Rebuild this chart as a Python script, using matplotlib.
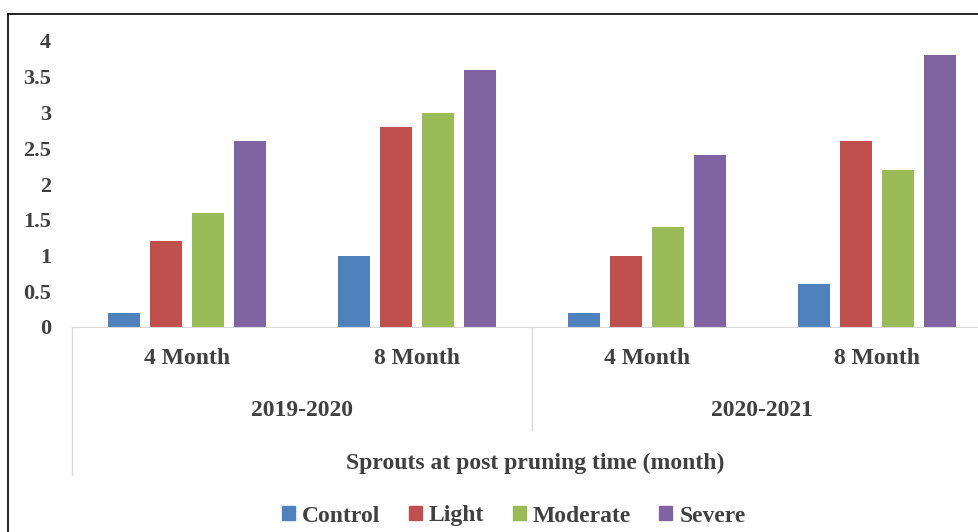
import matplotlib
matplotlib.use("Agg")
import matplotlib.pyplot as plt
import matplotlib.transforms as mtransforms
from matplotlib.lines import Line2D
import numpy as np

years = ["2019-2020", "2020-2021"]
months = ["4 Month", "8 Month", "4 Month", "8 Month"]
series = ["Control", "Light", "Moderate", "Severe"]
control = [0.2, 1.0, 0.2, 0.6]
light = [1.2, 2.8, 1.0, 2.6]
moderate = [1.6, 3.0, 1.4, 2.2]
severe = [2.6, 3.6, 2.4, 3.8]
yticks = [0, 0.5, 1, 1.5, 2, 2.5, 3, 3.5, 4]
ytick_labels = ["0", "0.5", "1", "1.5", "2", "2.5", "3", "3.5", "4"]
colors = ["#4F81BD", "#C0504D", "#9BBB59", "#8064A2"]
xlabel = "Sprouts at post pruning time (month)"

W, H = 979, 532
fig = plt.figure(figsize=(W/100, H/100), dpi=100)
FONT = "Liberation Serif"
TXT = "#404040"

def fx(px): return px / W
def fy(py): return 1 - py / H

ax = fig.add_axes([fx(72), fy(327), (992-72)/W, (327-41)/H])
x = np.arange(len(months))
vals = [control, light, moderate, severe]
for i, (v, c) in enumerate(zip(vals, colors)):
    ax.bar(x + (i - 1.5) * 0.183, v, width=0.14, color=c, label=series[i])
ax.set_xlim(-0.5, 3.5)
ax.set_ylim(0, 4)
for s in ["top", "right", "left"]:
    ax.spines[s].set_visible(False)
ax.spines["bottom"].set_color("#D9D9D9")
ax.set_xticks([])
ax.set_yticks(yticks)
ax.set_yticklabels(ytick_labels, fontfamily=FONT, fontweight="bold", fontsize=16, color=TXT)
ax.tick_params(axis="y", length=0, pad=15)

bt = mtransforms.blended_transform_factory(ax.transData, fig.transFigure)
for xi, m in zip(x, months):
    ax.text(xi, fy(358), m, transform=bt, ha="center", va="center",
            fontfamily=FONT, fontweight="bold", fontsize=17, color=TXT)
for k, yl in enumerate(years):
    ax.text(0.5 + 2*k, fy(410), yl, transform=bt, ha="center", va="center",
            fontfamily=FONT, fontweight="bold", fontsize=17, color=TXT)
fig.text(fx(535), fy(463), xlabel, ha="center", va="center", fontfamily=FONT,
         fontweight="bold", fontsize=17, color=TXT)

fig.add_artist(Line2D([fx(72), fx(72)], [fy(327), fy(475)], color="#D9D9D9", lw=1))
fig.add_artist(Line2D([fx(532), fx(532)], [fy(327), fy(430)], color="#D9D9D9", lw=1))
fig.add_artist(Line2D([fx(8), fx(979)], [fy(14), fy(14)], color="black", lw=1.2))
fig.add_artist(Line2D([fx(8), fx(8)], [fy(14), fy(532)], color="black", lw=1.2))

handles = [plt.Rectangle((0, 0), 1, 1, color=c) for c in colors]
leg = fig.legend(handles, series, loc="center", bbox_to_anchor=(fx(514), fy(516)), ncol=4, frameon=False,
                 prop={"family": FONT, "size": 17, "weight": "bold"}, handlelength=0.55, handleheight=0.55,
                 handletextpad=0.3, columnspacing=1.2)
for t in leg.get_texts():
    t.set_color(TXT)

fig.savefig("out.png", dpi=100)
